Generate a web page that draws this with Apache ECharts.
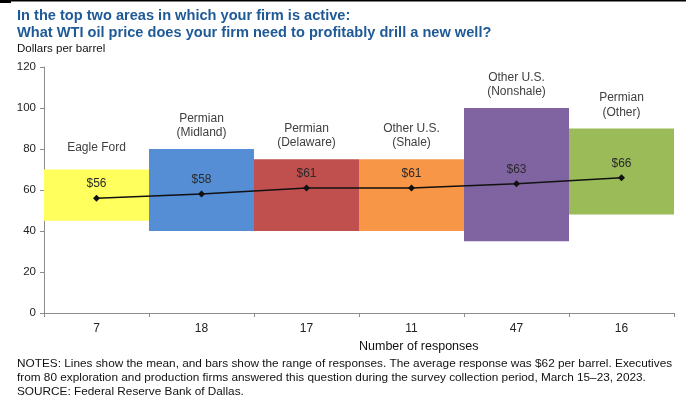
<!DOCTYPE html>
<html>
<head>
<meta charset="utf-8">
<script src="https://cdn.jsdelivr.net/npm/echarts@6/dist/echarts.min.js"></script>
<style>
  html, body { margin: 0; padding: 0; background: #fff; }
  #chart { width: 686px; height: 400px; }
</style>
</head>
<body>
<div id="chart"></div>
<script>
// Breakeven WTI price by area: range of responses (bars) and mean (line)
const areas = ['Eagle Ford', 'Permian\n(Midland)', 'Permian\n(Delaware)', 'Other U.S.\n(Shale)', 'Other U.S.\n(Nonshale)', 'Permian\n(Other)'];
const responses = ['7', '18', '17', '11', '47', '16'];
const rangeLow = [45, 40, 40, 40, 35, 48];
const rangeHigh = [70, 80, 75, 75, 100, 90];
const meanPrice = [56, 58, 61, 61, 63, 66];
const barColors = ['#FFFF5E', '#558ED5', '#C0504D', '#F79646', '#8064A2', '#9BBB59'];
const yTicks = [0, 20, 40, 60, 80, 100, 120];

const font = '"Liberation Sans", Arial, sans-serif';
const chart = echarts.init(document.getElementById('chart'), null, { renderer: 'canvas' });

chart.setOption({
  animation: false,
  textStyle: { fontFamily: font },
  grid: { left: 44, right: 12, top: 67, bottom: 87 },
  xAxis: {
    type: 'category',
    data: responses,
    axisLine: { lineStyle: { color: '#8c8c8c', width: 1 } },
    axisTick: { show: true, length: 4, lineStyle: { color: '#8c8c8c' } },
    axisLabel: { color: '#222', fontSize: 12, margin: 10 }
  },
  yAxis: {
    type: 'value',
    min: yTicks[0],
    max: yTicks[yTicks.length - 1],
    interval: yTicks[1] - yTicks[0],
    axisLine: { show: true, lineStyle: { color: '#8c8c8c', width: 1 } },
    axisTick: { show: true, length: 4, lineStyle: { color: '#8c8c8c' } },
    axisLabel: { color: '#222', fontSize: 11.5, margin: 8 },
    splitLine: { show: false }
  },
  series: [
    {
      type: 'bar',
      stack: 'range',
      data: rangeLow,
      itemStyle: { color: 'transparent' },
      barCategoryGap: '0%',
      silent: true
    },
    {
      type: 'bar',
      stack: 'range',
      data: rangeHigh.map((h, i) => ({
        value: h - rangeLow[i],
        itemStyle: { color: barColors[i] },
        label: { distance: i === 0 ? 15 : 9 }
      })),
      barCategoryGap: '0%',
      label: {
        show: true,
        position: 'top',
        color: '#404040',
        fontSize: 12,
        lineHeight: 14.5,
        formatter: p => areas[p.dataIndex]
      }
    },
    {
      type: 'line',
      data: meanPrice,
      symbol: 'diamond',
      symbolSize: 7,
      lineStyle: { color: '#111', width: 1.5 },
      itemStyle: { color: '#111' },
      label: {
        show: true,
        position: 'top',
        distance: 5,
        color: '#2a2a2a',
        fontSize: 12,
        formatter: p => '$' + p.value
      },
      z: 5
    }
  ],
  graphic: [
    { type: 'rect', shape: { x: 0, y: 0, width: 686, height: 1.5 }, style: { fill: '#000' } },
    { type: 'rect', shape: { x: 0, y: 0, width: 11, height: 3 }, style: { fill: '#000' } },
    {
      type: 'text', left: 17, top: 7,
      style: {
        text: 'In the top two areas in which your firm is active:\nWhat WTI oil price does your firm need to profitably drill a new well?',
        font: 'bold 14.6px ' + font, fill: '#1F5A96', lineHeight: 17
      }
    },
    {
      type: 'text', left: 17, top: 43,
      style: { text: 'Dollars per barrel', font: '11.5px ' + font, fill: '#111' }
    },
    {
      type: 'text', left: 359, top: 340,
      style: { text: 'Number of responses', font: '12.5px ' + font, fill: '#111', align: 'center' }
    },
    {
      type: 'text', left: 17, top: 357,
      style: {
        text: 'NOTES: Lines show the mean, and bars show the range of responses. The average response was $62 per barrel. Executives\nfrom 80 exploration and production firms answered this question during the survey collection period, March 15\u201323, 2023.\nSOURCE: Federal Reserve Bank of Dallas.',
        font: '11.8px ' + font, fill: '#111', lineHeight: 14
      }
    }
  ]
});
</script>
</body>
</html>
